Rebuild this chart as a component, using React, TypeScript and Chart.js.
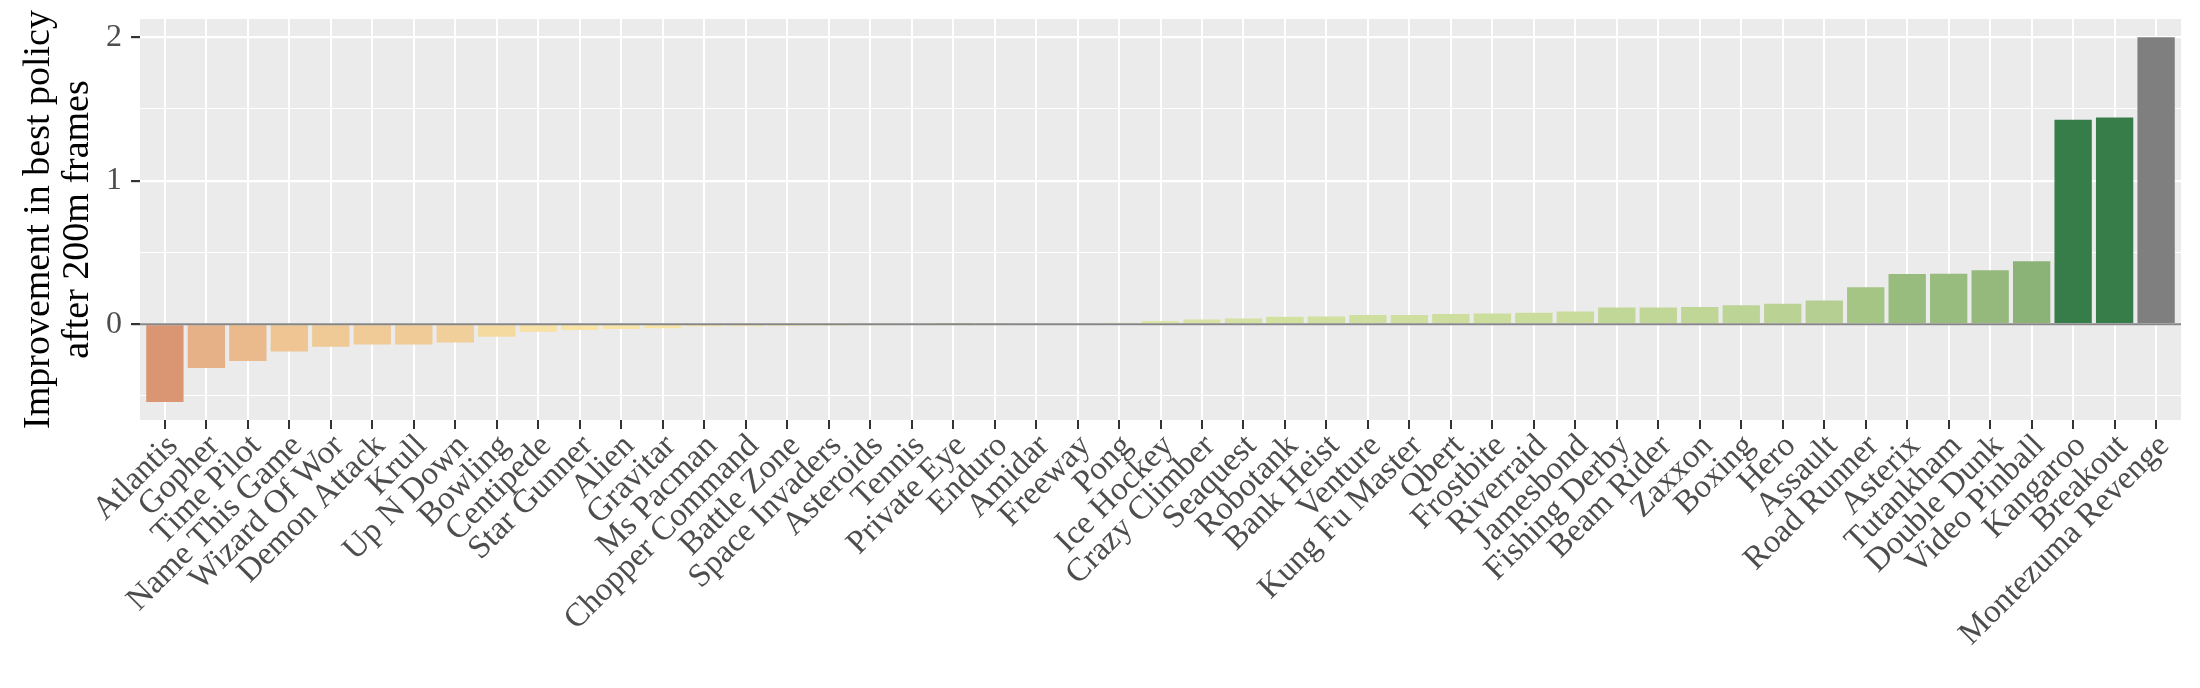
import { useEffect, useRef } from "react"
import { Chart, registerables } from "chart.js"

Chart.register(...registerables)

// games, sorted by improvement
const games = [
    "Atlantis", "Gopher", "Time Pilot", "Name This Game", "Wizard Of Wor", "Demon Attack", "Krull",
    "Up N Down", "Bowling", "Centipede", "Star Gunner", "Alien", "Gravitar", "Ms Pacman",
    "Chopper Command", "Battle Zone", "Space Invaders", "Asteroids", "Tennis", "Private Eye",
    "Enduro", "Amidar", "Freeway", "Pong", "Ice Hockey", "Crazy Climber", "Seaquest", "Robotank",
    "Bank Heist", "Venture", "Kung Fu Master", "Qbert", "Frostbite", "Riverraid", "Jamesbond",
    "Fishing Derby", "Beam Rider", "Zaxxon", "Boxing", "Hero", "Assault", "Road Runner", "Asterix",
    "Tutankham", "Double Dunk", "Video Pinball", "Kangaroo", "Breakout", "Montezuma Revenge",
]

const improvement = [
    -0.542, -0.305, -0.256, -0.191, -0.158, -0.142, -0.142,
    -0.128, -0.088, -0.053, -0.040, -0.033, -0.028, -0.016,
    -0.015, -0.013, -0.011, -0.002, 0.0, 0.001,
    0.005, 0.007, 0.008, 0.009, 0.022, 0.032, 0.040, 0.051,
    0.053, 0.063, 0.064, 0.070, 0.075, 0.080, 0.089,
    0.116, 0.116, 0.120, 0.132, 0.142, 0.165, 0.258, 0.350,
    0.351, 0.376, 0.439, 1.425, 1.441, 2.0,
]

const yMajorTicks = [0, 1, 2]
const yMinorTicks = [-0.5, 0.5, 1.5]

// fill gradient (value -> colour), values beyond the limit get the NA grey
const colorStopValues = [-0.55, -0.3, -0.19, -0.14, -0.09, -0.05, -0.015, 0, 0.01, 0.04, 0.09, 0.12, 0.165, 0.26, 0.35, 0.44, 1.4]
const colorStopHex = [
    "#DA9571", "#E7B287", "#EEC593", "#F0CB98", "#F4DA9F", "#F8E2A4", "#FAE9A9", "#F1ECAD", "#E2E7A9",
    "#D3E2A2", "#C9DC9B", "#BFD697", "#B5CF93", "#A5C585", "#98BB7E", "#8CB377", "#367D4A",
]
const fillLimit = 1.5
const naColor = "#7F7F7F"

function hexToRgb(h: string) {
    return [1, 3, 5].map((i) => parseInt(h.slice(i, i + 2), 16))
}

function fillFor(v: number) {
    if (v > fillLimit) return naColor
    if (v <= colorStopValues[0]) return colorStopHex[0]
    const last = colorStopValues.length - 1
    if (v >= colorStopValues[last]) return colorStopHex[last]
    let i = 0
    while (v > colorStopValues[i + 1]) i++
    const t = (v - colorStopValues[i]) / (colorStopValues[i + 1] - colorStopValues[i])
    const a = hexToRgb(colorStopHex[i])
    const b = hexToRgb(colorStopHex[i + 1])
    const c = a.map((x, k) => Math.round(x + (b[k] - x) * t))
    return `rgb(${c[0]}, ${c[1]}, ${c[2]})`
}

const panelBackground = {
    id: "panelBackground",
    beforeDraw(chart: Chart) {
        const { ctx, chartArea } = chart
        ctx.save()
        ctx.fillStyle = "#EBEBEB"
        ctx.fillRect(chartArea.left, chartArea.top, chartArea.right - chartArea.left, chartArea.bottom - chartArea.top)
        ctx.restore()
    },
}

// grey reference line at zero, on top of the bars
const zeroLine = {
    id: "zeroLine",
    afterDatasetsDraw(chart: Chart) {
        const { ctx, chartArea, scales } = chart
        const y = scales.y.getPixelForValue(0)
        ctx.save()
        ctx.strokeStyle = "#858585"
        ctx.lineWidth = 2
        ctx.beginPath()
        ctx.moveTo(chartArea.left, y)
        ctx.lineTo(chartArea.right, y)
        ctx.stroke()
        ctx.restore()
    },
}

export default function App() {
    const canvasRef = useRef<HTMLCanvasElement | null>(null)
    const chartRef = useRef<Chart | null>(null)

    useEffect(() => {
        if (!canvasRef.current) return
        const ctx = canvasRef.current.getContext("2d")
        if (!ctx) return

        const serif = "'Liberation Serif', 'Times New Roman', serif"
        Chart.defaults.font.family = serif

        chartRef.current = new Chart(ctx, {
            type: "bar",
            data: {
                datasets: [
                    {
                        data: improvement.map((v, i) => ({ x: i, y: v })),
                        backgroundColor: improvement.map(fillFor),
                        borderWidth: 0,
                        barPercentage: 0.9,
                        categoryPercentage: 1,
                    },
                ],
            },
            options: {
                animation: false,
                responsive: true,
                maintainAspectRatio: false,
                layout: { padding: { top: 19, right: 19, left: 0, bottom: 0 } },
                plugins: {
                    legend: { display: false },
                    tooltip: { enabled: false },
                },
                scales: {
                    x: {
                        type: "linear",
                        offset: false,
                        min: -0.6,
                        max: games.length - 1 + 0.6,
                        afterBuildTicks: (scale: any) => {
                            scale.ticks = games.map((_, i) => ({ value: i }))
                        },
                        afterFit: (scale: any) => {
                            scale.height = 268
                            scale.paddingLeft = 0
                            scale.paddingRight = 0
                        },
                        ticks: {
                            autoSkip: false,
                            minRotation: 45,
                            maxRotation: 45,
                            padding: -2,
                            labelOffset: 8,
                            color: "#4D4D4D",
                            font: { family: serif, size: 33 },
                            callback: (v: any) => games[v] ?? "",
                        },
                        grid: {
                            offset: false,
                            color: "#FFFFFF",
                            lineWidth: 2,
                            tickLength: 9,
                            tickColor: "#333333",
                        },
                        border: { display: false },
                    },
                    y: {
                        min: -0.668,
                        max: 2.127,
                        afterBuildTicks: (scale: any) => {
                            scale.ticks = [...yMinorTicks, ...yMajorTicks]
                                .sort((a, b) => a - b)
                                .map((v) => ({ value: v }))
                        },
                        afterFit: (scale: any) => {
                            scale.width = 140
                            scale.paddingTop = 0
                            scale.paddingBottom = 0
                        },
                        ticks: {
                            padding: 9,
                            color: "#4D4D4D",
                            font: { family: serif, size: 32 },
                            callback: (v: any) => (yMajorTicks.includes(v) ? String(v) : ""),
                        },
                        grid: {
                            color: "#FFFFFF",
                            lineWidth: (c: any) => (yMajorTicks.includes(c.tick?.value) ? 2.2 : 1.1),
                            tickLength: 9,
                            tickColor: (c: any) => (yMajorTicks.includes(c.tick?.value) ? "#333333" : "rgba(0,0,0,0)"),
                        },
                        border: { display: false },
                        title: {
                            display: true,
                            text: ["Improvement in best policy", "after 200m frames"],
                            color: "#000000",
                            font: { family: serif, size: 38, lineHeight: 1.02 },
                            padding: { top: 20, bottom: 0 },
                        },
                    },
                },
            },
            plugins: [panelBackground, zeroLine],
        })

        return () => {
            if (chartRef.current) {
                chartRef.current.destroy()
                chartRef.current = null
            }
        }
    }, [])

    return (
        <div style={{ position: "absolute", left: 0, top: 0, width: 2200, height: 688, background: "#FFFFFF" }}>
            <canvas ref={canvasRef} />
        </div>
    )
}
